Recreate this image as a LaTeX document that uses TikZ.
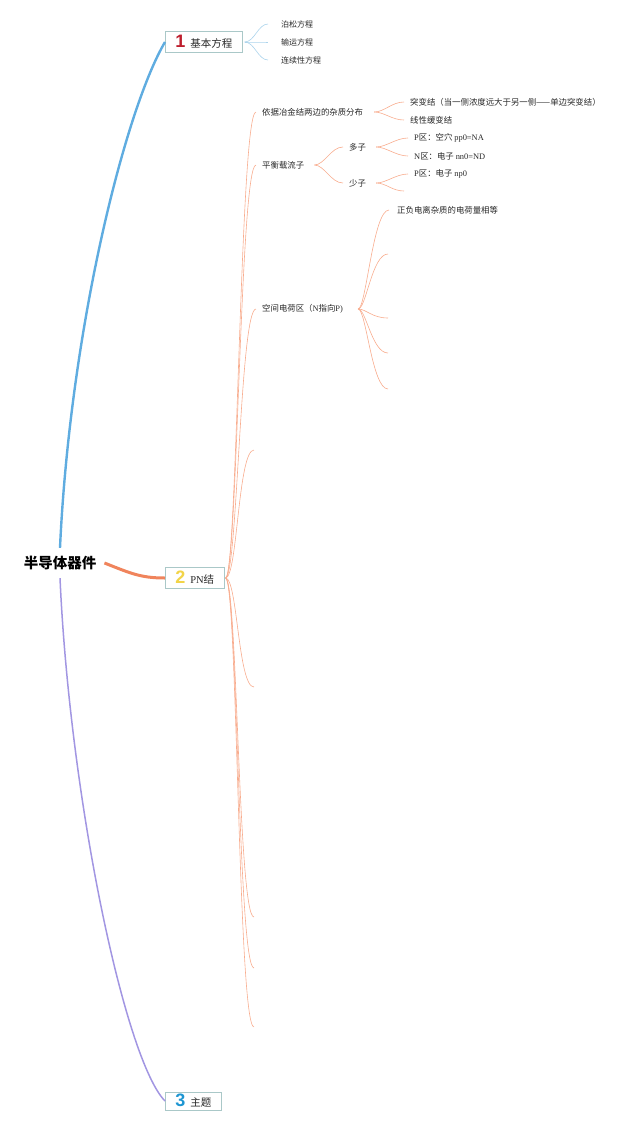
\documentclass[tikz,border=0pt]{standalone}
\usepackage{fontspec}
\setmainfont{Liberation Serif}
\newfontfamily\cjk{Noto Sans CJK SC}
\newfontfamily\numfont{Liberation Sans}

\definecolor{inkgray}{RGB}{40,40,40}
\definecolor{boxframe}{RGB}{170,200,200}
\definecolor{basicblue}{RGB}{95,172,224}
\definecolor{basicthin}{RGB}{172,212,236}
\definecolor{pnorange}{RGB}{240,132,92}
\definecolor{pnthin}{RGB}{248,172,142}
\definecolor{themepurple}{RGB}{162,150,226}
\definecolor{numred}{RGB}{190,30,45}
\definecolor{numyellow}{RGB}{242,212,72}
\definecolor{numblue}{RGB}{30,150,210}

\newcommand\topicnum[2]{{\numfont\bfseries\fontsize{18}{18}\selectfont\color{#1}#2}\hspace{5pt}}

\begin{document}
\begin{tikzpicture}[x = 1pt, y = -1pt,
	topic/.style = {draw = boxframe, fill = white, line width = 0.6pt, inner xsep = 10pt, inner ysep = 0pt, minimum height = 21pt, anchor = west, text = inkgray, font = \cjk\fontsize{10.5}{12}\selectfont},
	leaf/.style = {inner xsep = 6pt, inner ysep = 1pt, anchor = west, text = inkgray, font = \cjk\fontsize{8.4}{9.5}\selectfont},
	twig/.style = {draw = pnthin, line width = 0.6pt},
	basictwig/.style = {draw = basicthin, line width = 0.6pt}]

	\useasboundingbox (0, 0) rectangle (640, 1125);

	% Central topic and main topics

	\node [text = black, inner xsep = 8pt, inner ysep = 8pt, font = \cjk\bfseries\fontsize{14.5}{16}\selectfont] (root) at (60, 563) {半导体器件};

	\node [topic] (basic) at (165, 42) {\topicnum{numred}{1}基本方程};
	\node [topic] (pn) at (165, 578) {\topicnum{numyellow}{2}\textrm{PN}结};
	\node [topic, minimum height = 18pt] (theme) at (165, 1101) {\topicnum{numblue}{3}主题};

	\draw [basicblue, line width = 2.4pt] (root.north) .. controls (70, 330) and (125, 110) .. (basic.west);
	\draw [themepurple, line width = 1.5pt] (root.south) .. controls (70, 800) and (125, 1060) .. (theme.west);
	\draw [pnorange, line width = 3pt] (root.east) .. controls (130, 573) and (140, 578) .. (pn.west);

	% Basic equations

	\node [leaf, inner xsep = 13pt, font = \cjk\fontsize{8}{9}\selectfont] (poisson) at (268, 24) {泊松方程};
	\node [leaf, inner xsep = 13pt, font = \cjk\fontsize{8}{9}\selectfont] (transport) at (268, 42) {输运方程};
	\node [leaf, inner xsep = 13pt, font = \cjk\fontsize{8}{9}\selectfont] (continuity) at (268, 60) {连续性方程};

	\foreach \t in {poisson, transport, continuity}
		\draw [basictwig] ([xshift = 2pt] basic.east) .. controls +(10, 0) and +(-10, 0) .. (\t.west);

	% PN junction, first level

	\node [leaf] (dist) at (256, 112) {依据冶金结两边的杂质分布};
	\node [leaf] (carrier) at (256, 165) {平衡载流子};
	\node [leaf] (space) at (256, 309) {空间电荷区（\textrm{N}指向\textrm{P)}};

	\coordinate (e1) at (254, 450);
	\coordinate (e2) at (254, 687);
	\coordinate (e3) at (254, 917);
	\coordinate (e4) at (254, 968);
	\coordinate (e5) at (254, 1027);

	\foreach \t in {dist, carrier, space}
		\draw [twig] ([xshift = 1pt] pn.east) .. controls +(12, 0) and +(-16, 0) .. (\t.west);
	\foreach \t in {e1, e2, e3, e4, e5}
		\draw [twig] ([xshift = 1pt] pn.east) .. controls +(12, 0) and +(-16, 0) .. (\t);

	% Impurity distribution

	\node [leaf] (abrupt) at (404, 102) {突变结（当一侧浓度远大于另一侧——单边突变结）};
	\node [leaf] (graded) at (404, 120) {线性缓变结};

	\foreach \t in {abrupt, graded}
		\draw [twig] ([xshift = 5pt] dist.east) .. controls +(10, 0) and +(-12, 0) .. (\t.west);

	% Equilibrium carriers

	\node [leaf] (major) at (343, 147) {多子};
	\node [leaf] (minor) at (343, 183) {少子};

	\foreach \t in {major, minor}
		\draw [twig] ([xshift = 4pt] carrier.east) .. controls +(10, 0) and +(-12, 0) .. (\t.west);

	\node [leaf] (majorp) at (408, 138) {\textrm{P}区：空穴 \textrm{pp0=NA}};
	\node [leaf] (majorn) at (408, 156) {\textrm{N}区：电子 \textrm{nn0=ND}};
	\node [leaf] (minorp) at (408, 174) {\textrm{P}区：电子 \textrm{np0}};
	\coordinate (minorx) at (404, 191);

	\foreach \t in {majorp, majorn}
		\draw [twig] ([xshift = 4pt] major.east) .. controls +(10, 0) and +(-12, 0) .. (\t.west);
	\draw [twig] ([xshift = 4pt] minor.east) .. controls +(10, 0) and +(-12, 0) .. (minorp.west);
	\draw [twig] ([xshift = 4pt] minor.east) .. controls +(10, 0) and +(-12, 0) .. (minorx);

	% Space charge region

	\node [leaf, inner xsep = 8pt] (charge) at (389, 210) {正负电离杂质的电荷量相等};

	\coordinate (s1) at (388, 254);
	\coordinate (s2) at (388, 318);
	\coordinate (s3) at (388, 353);
	\coordinate (s4) at (388, 389);

	\draw [twig] ([xshift = 9pt] space.east) .. controls +(8, 0) and +(-16, 0) .. (charge.west);
	\foreach \t in {s1, s2, s3, s4}
		\draw [twig] ([xshift = 9pt] space.east) .. controls +(8, 0) and +(-16, 0) .. (\t);

\end{tikzpicture}
\end{document}
